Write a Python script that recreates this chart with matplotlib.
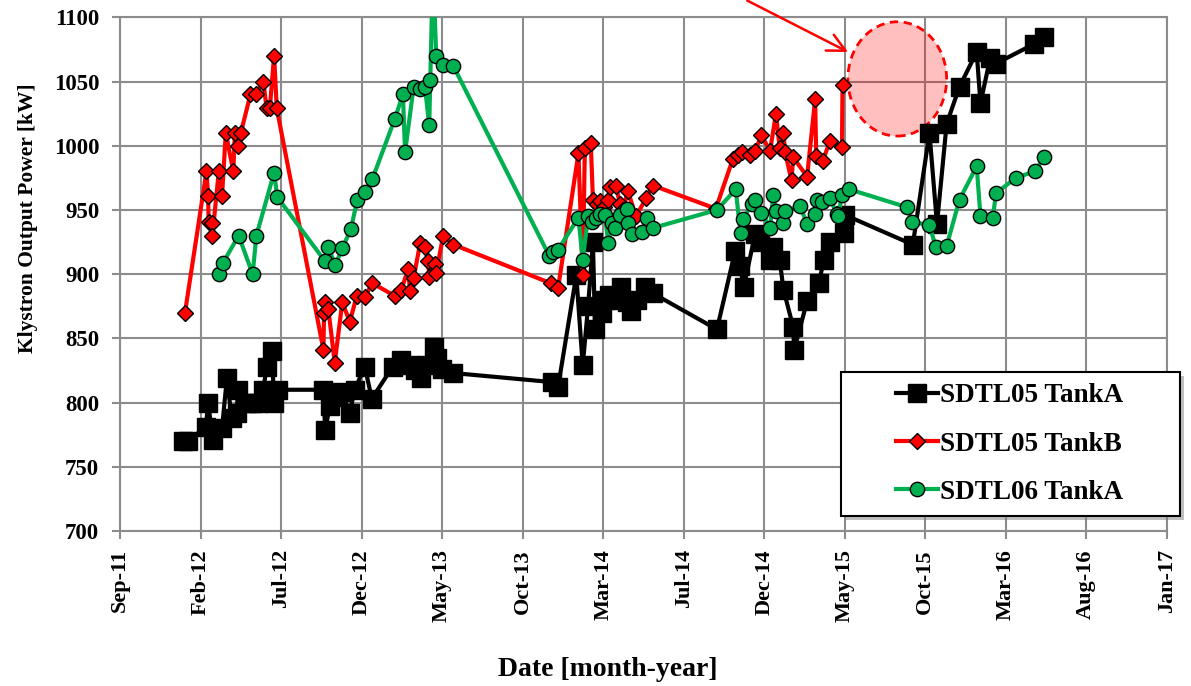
import numpy as np
import pandas as pd
import matplotlib
matplotlib.use("Agg")
import matplotlib.pyplot as plt
import matplotlib.dates as mdates
from matplotlib.patches import Ellipse, Rectangle
from matplotlib.transforms import ScaledTranslation

plt.rcParams['font.family'] = ['Liberation Serif', 'DejaVu Serif']
plt.rcParams['font.weight'] = 'bold'

# ---- SDTL05 Tank A -------------------------------------------------------
sdtl05a_dates = [
    "2012-01-09", "2012-01-18", "2012-02-21", "2012-02-25", "2012-03-05", "2012-03-22",
    "2012-03-31", "2012-04-09", "2012-04-18", "2012-04-21", "2012-05-07", "2012-05-17",
    "2012-05-28", "2012-06-07", "2012-06-13", "2012-06-23", "2012-06-27", "2012-07-04",
    "2012-09-27", "2012-09-30", "2012-10-09", "2012-10-17", "2012-10-31", "2012-11-15",
    "2012-11-24", "2012-12-13", "2012-12-26", "2013-02-03", "2013-02-18", "2013-03-07",
    "2013-03-17", "2013-03-28", "2013-04-08", "2013-04-21", "2013-04-27", "2013-05-06",
    "2013-05-27", "2013-11-26", "2013-12-08", "2014-01-11", "2014-01-23", "2014-02-02",
    "2014-02-11", "2014-02-15", "2014-02-27", "2014-03-05", "2014-03-13", "2014-03-26",
    "2014-04-05", "2014-04-15", "2014-04-23", "2014-05-04", "2014-05-19", "2014-06-03",
    "2014-09-30", "2014-11-03", "2014-11-12", "2014-11-19", "2014-12-10", "2014-12-20",
    "2015-01-07", "2015-01-12", "2015-01-25", "2015-02-01", "2015-02-19", "2015-02-21",
    "2015-03-17", "2015-04-08", "2015-04-17", "2015-04-29", "2015-05-24", "2015-05-27",
    "2015-09-30", "2015-10-31", "2015-11-14", "2015-12-02", "2015-12-26", "2016-01-27",
    "2016-02-03", "2016-02-21", "2016-03-03", "2016-05-12", "2016-06-01",
]
sdtl05a_kw = [
    770, 770, 781, 800, 771, 780,
    819, 788, 792, 810, 800, 800,
    800, 810, 828, 840, 800, 810,
    810, 779, 797, 804, 808, 792,
    810, 828, 803, 828, 833, 829,
    825, 819, 829, 843, 835, 826,
    823, 816, 812, 899, 829, 875,
    925, 857, 870, 880, 884, 880,
    890, 878, 871, 880, 890, 885,
    857, 918, 906, 890, 931, 925,
    911, 921, 911, 888, 859, 841,
    879, 893, 911, 925, 932, 946,
    923, 1010, 939, 1017, 1046, 1073,
    1033, 1068, 1064, 1079, 1085,
]

# ---- SDTL05 Tank B -------------------------------------------------------
sdtl05b_dates = [
    "2012-01-13", "2012-02-22", "2012-02-25", "2012-02-26", "2012-03-03", "2012-03-04",
    "2012-03-16", "2012-03-22", "2012-03-29", "2012-04-12", "2012-04-15", "2012-04-21",
    "2012-04-26", "2012-05-14", "2012-05-25", "2012-06-07", "2012-06-13", "2012-06-19",
    "2012-06-27", "2012-07-02", "2012-09-27", "2012-09-28", "2012-09-30", "2012-10-06",
    "2012-10-18", "2012-11-01", "2012-11-15", "2012-11-28", "2012-12-13", "2012-12-27",
    "2013-02-07", "2013-02-19", "2013-03-04", "2013-03-07", "2013-03-14", "2013-03-26",
    "2013-04-04", "2013-04-10", "2013-04-12", "2013-04-23", "2013-04-25", "2013-05-08",
    "2013-05-27", "2013-11-24", "2013-12-08", "2014-01-15", "2014-01-23", "2014-01-27",
    "2014-02-07", "2014-02-11", "2014-02-18", "2014-02-24", "2014-03-03", "2014-03-12",
    "2014-03-15", "2014-03-26", "2014-04-02", "2014-04-08", "2014-04-17", "2014-05-02",
    "2014-05-21", "2014-06-03", "2014-09-28", "2014-10-30", "2014-11-09", "2014-11-15",
    "2014-12-01", "2014-12-10", "2014-12-22", "2015-01-07", "2015-01-18", "2015-01-25",
    "2015-02-01", "2015-02-04", "2015-02-16", "2015-02-19", "2015-03-17", "2015-04-01",
    "2015-04-03", "2015-04-15", "2015-04-29", "2015-05-21", "2015-05-22",
]
sdtl05b_kw = [
    870, 980, 961, 941, 940, 930,
    980, 961, 1010, 980, 1010, 1000,
    1010, 1040, 1040, 1050, 1029, 1029,
    1070, 1029, 841, 870, 878, 873,
    831, 878, 863, 883, 882, 893,
    883, 888, 904, 887, 897, 924,
    921, 910, 898, 908, 901, 930,
    923, 893, 889, 994, 899, 998,
    1002, 958, 955, 957, 952, 958,
    968, 969, 955, 950, 965, 945,
    959, 969, 951, 990, 993, 995,
    993, 996, 1008, 996, 1025, 998,
    1010, 995, 973, 991, 976, 1036,
    992, 988, 1004, 999, 1047,
]

# ---- SDTL06 Tank A -------------------------------------------------------
sdtl06a_dates = [
    "2012-03-17", "2012-03-24", "2012-04-22", "2012-05-18", "2012-05-25", "2012-06-27",
    "2012-07-03", "2012-09-30", "2012-10-06", "2012-10-19", "2012-11-01", "2012-11-17",
    "2012-11-29", "2012-12-13", "2012-12-27", "2013-02-07", "2013-02-22", "2013-02-26",
    "2013-03-14", "2013-03-26", "2013-04-04", "2013-04-12", "2013-04-14", "2013-04-19",
    "2013-04-25", "2013-05-08", "2013-05-27", "2013-11-22", "2013-11-29", "2013-12-08",
    "2014-01-15", "2014-01-23", "2014-02-02", "2014-02-09", "2014-02-17", "2014-02-24",
    "2014-03-05", "2014-03-12", "2014-03-18", "2014-03-24", "2014-04-02", "2014-04-15",
    "2014-04-18", "2014-04-24", "2014-05-13", "2014-05-22", "2014-06-03", "2014-09-30",
    "2014-11-04", "2014-11-13", "2014-11-18", "2014-12-04", "2014-12-10", "2014-12-22",
    "2015-01-07", "2015-01-13", "2015-01-18", "2015-02-01", "2015-02-04", "2015-03-04",
    "2015-03-17", "2015-04-01", "2015-04-04", "2015-04-13", "2015-04-29", "2015-05-11",
    "2015-05-14", "2015-05-21", "2015-06-04", "2015-09-20", "2015-09-28", "2015-10-31",
    "2015-11-12", "2015-12-02", "2015-12-26", "2016-01-27", "2016-02-03", "2016-02-26",
    "2016-03-03", "2016-04-09", "2016-05-14", "2016-06-01",
]
sdtl06a_kw = [
    900, 909, 930, 900, 930, 979,
    960, 910, 921, 907, 920, 935,
    958, 964, 974, 1021, 1040, 995,
    1046, 1044, 1046, 1016, 1051, 1140,
    1070, 1063, 1062, 914, 917, 919,
    944, 911, 945, 941, 944, 947,
    946, 924, 940, 936, 946, 951,
    940, 931, 933, 944, 936, 950,
    966, 932, 943, 955, 958, 948,
    936, 962, 949, 940, 949, 953,
    939, 947, 958, 956, 959, 947,
    945, 962, 966, 952, 941, 938,
    921, 922, 958, 984, 945, 944,
    963, 975, 980, 991,
]

series_labels = ["SDTL05 TankA", "SDTL05 TankB", "SDTL06 TankA"]

# axis layout: Excel-style date axis, 150-day major unit
axis_start = pd.Timestamp("2011-09-14")
tick_step_days = 150
n_ticks = 14
y_ticks = list(range(700, 1101, 50))

RED = "#FF0000"
GREEN = "#00B050"
GRID = "#8c8c8c"

fig = plt.figure(figsize=(11.91, 6.86), dpi=100)
ax = fig.add_axes([0.1008, 0.2259, 0.8788, 0.7489])

d5a = pd.to_datetime(sdtl05a_dates)
d5b = pd.to_datetime(sdtl05b_dates)
d6a = pd.to_datetime(sdtl06a_dates)

ax.plot(d5a, sdtl05a_kw, color="black", lw=3, marker="s", ms=12.5,
        mfc="black", mec="black", mew=1, label=series_labels[0], zorder=3)
ax.plot(d5b, sdtl05b_kw, color=RED, lw=3, marker="D", ms=8.6,
        mfc=RED, mec="black", mew=1, label=series_labels[1], zorder=4)
ax.plot(d6a, sdtl06a_kw, color=GREEN, lw=3, marker="o", ms=10.3,
        mfc=GREEN, mec="black", mew=1, label=series_labels[2], zorder=5)

tick_dates = [axis_start + pd.Timedelta(days=tick_step_days * k) for k in range(n_ticks)]
ax.set_xlim(tick_dates[0], tick_dates[-1])
ax.set_xticks(tick_dates)
ax.xaxis.set_major_formatter(mdates.DateFormatter("%b-%y"))
ax.set_ylim(700, 1100)
ax.set_yticks(y_ticks)

ax.grid(True, color=GRID, lw=1.5)
ax.set_axisbelow(True)
for s in ax.spines.values():
    s.set_color(GRID)
    s.set_linewidth(1.5)

ax.tick_params(axis="both", direction="out", length=6, width=1.5, color=GRID)
ax.tick_params(axis="x", labelsize=16, pad=7, labelrotation=90)
ax.tick_params(axis="y", labelsize=16.5, pad=9)

ax.set_ylabel("Klystron Output Power [kW]", fontsize=15.5, fontweight="bold")
ax.yaxis.set_label_coords(-0.078, 0.609)
ax.set_xlabel("Date [month-year]", fontsize=20, fontweight="bold")
ax.xaxis.set_label_coords(0.466, -0.245)

# highlighted target region with a pointer arrow
ell_center = (mdates.date2num(pd.Timestamp("2015-09-01")), 1052)
ax.add_patch(Ellipse(ell_center, 184, 89, facecolor=(1, 0, 0, 0.25),
                     edgecolor=RED, linestyle=(0, (3, 2)), lw=2, zorder=2.5))
ax.annotate("", xy=(mdates.date2num(pd.Timestamp("2015-06-06")), 1072),
            xytext=(mdates.date2num(pd.Timestamp("2014-11-21")), 1114),
            arrowprops=dict(arrowstyle="->", color=RED, lw=1.8, mutation_scale=32),
            annotation_clip=False, zorder=6)

# legend box with drop shadow
bx0, by0, bx1, by1 = 0.6888, 0.0298, 1.0127, 0.3101
shadow = Rectangle((bx0, by0), bx1 - bx0, by1 - by0, facecolor="#808080", alpha=0.5,
                   edgecolor="none", clip_on=False, zorder=8,
                   transform=ax.transAxes + ScaledTranslation(3 / 72, -3 / 72, fig.dpi_scale_trans))
ax.add_patch(shadow)
ax.add_patch(Rectangle((bx0, by0), bx1 - bx0, by1 - by0, facecolor="white",
                       edgecolor="black", lw=1.5, clip_on=False, zorder=9,
                       transform=ax.transAxes))
leg = ax.legend(loc="center", bbox_to_anchor=(0.8497, 0.1694), frameon=False,
                prop={"family": "Liberation Serif", "weight": "bold", "size": 19.5},
                handlelength=1.55, handletextpad=0.08, labelspacing=0.86,
                borderpad=0, borderaxespad=0)
leg.set_zorder(10)

fig.savefig("out.png", dpi=100)
